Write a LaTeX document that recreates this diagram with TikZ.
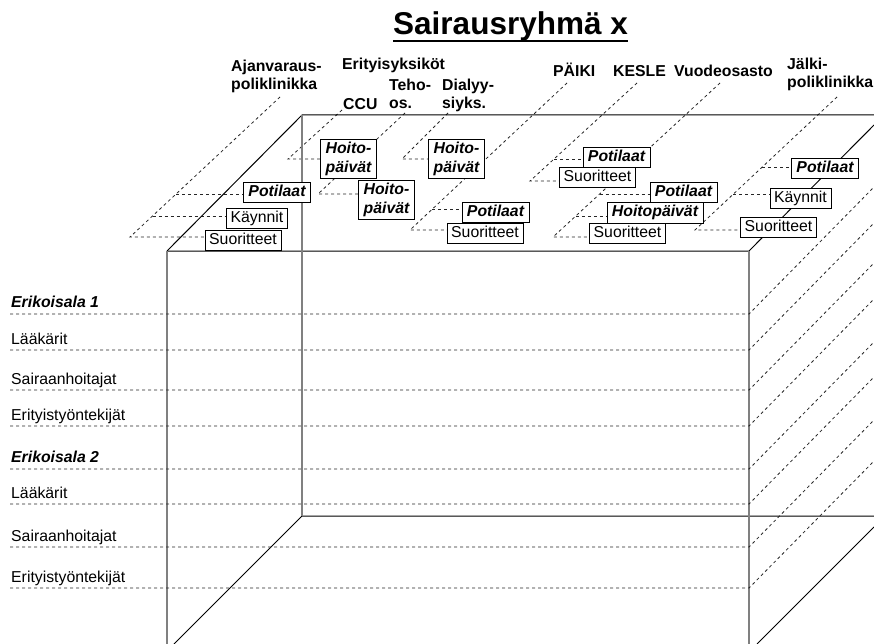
\documentclass[tikz,border=0pt]{standalone}
\usepackage{fontspec}
\setmainfont{Liberation Sans}
\usetikzlibrary{backgrounds}
\newcommand{\perus}{\fontsize{15.8}{18}\selectfont}
\begin{document}
\begin{tikzpicture}[x=1pt, y=-1pt, font=\perus,
            kuutio/.style={draw=black, line width=1pt},
            pysty/.style={draw=gray, line width=1.4pt},
            katko/.style={draw=black!85, line width=0.8pt, dash pattern=on 3pt off 3pt},
            osasto/.style={inner sep=0pt, align=left, font=\perus\bfseries},
            rivi/.style={anchor=base west, inner sep=0pt},
            boks/.style={draw, fill=white, inner xsep=4pt, inner ysep=2.5pt, text height=12pt, text depth=3.5pt},
            lihavoitu/.style={boks, inner xsep=5pt, font=\perus\bfseries\itshape},
            hoito/.style={draw, fill=white, align=left, inner xsep=5pt, inner ysep=2.5pt, font=\fontsize{15.8}{19}\selectfont\bfseries\itshape}]
            \useasboundingbox (0,0) rectangle (874,644);

            \node[anchor=base west, inner sep=0pt, font=\fontsize{31.5}{36}\selectfont\bfseries] (otsikko) at (393,35) {Sairausryhmä x};
            \draw[line width=2.6pt] ([yshift=-6pt]otsikko.base west) -- ([yshift=-6pt]otsikko.base east);

            \draw[kuutio] (167,251) -- (302,115) -- (874,115);
            \draw[kuutio] (167,251) -- (749,251) -- (874,125);
            \draw[kuutio] (174,644) -- (302,516) -- (874,516);
            \draw[kuutio] (757,644) -- (874,527);
            \draw[pysty] (167,251) -- (167,644);
            \draw[pysty] (749,251) -- (749,644);
            \draw[pysty] (302,115) -- (302,516);

            \node[rivi] (ea1) at (11,307.5) {\textbf{\textit{Erikoisala 1}}};
            \node[rivi] (laa1) at (11,344.5) {Lääkärit};
            \node[rivi] (sai1) at (11,384) {Sairaanhoitajat};
            \node[rivi] (eri1) at (11,420.5) {Erityistyöntekijät};
            \node[rivi] (ea2) at (11,462.5) {\textbf{\textit{Erikoisala 2}}};
            \node[rivi] (laa2) at (11,498.5) {Lääkärit};
            \node[rivi] (sai2) at (11,541) {Sairaanhoitajat};
            \node[rivi] (eri2) at (11,582.5) {Erityistyöntekijät};

            \draw[katko] (10,314) -- (749,314) -- ++(125,-127);
            \draw[katko] (10,350) -- (749,350) -- ++(125,-127);
            \draw[katko] (10,390) -- (749,390) -- ++(125,-127);
            \draw[katko] (10,426) -- (749,426) -- ++(125,-127);
            \draw[katko] (10,469) -- (749,469) -- ++(125,-127);
            \draw[katko] (10,504) -- (749,504) -- ++(125,-127);
            \draw[katko] (10,547) -- (749,547) -- ++(125,-127);
            \draw[katko] (10,588) -- (749,588) -- ++(125,-127);

            \node[osasto, anchor=north west] (ajL) at (231,60) {Ajanvaraus-\\poliklinikka};
            \node[osasto, anchor=base west] (eriL) at (342,70) {Erityisyksiköt};
            \node[osasto, anchor=base west] (ccuL) at (343,110) {CCU};
            \node[osasto, anchor=north west] (tehL) at (389,79) {Teho-\\os.};
            \node[osasto, anchor=north west] (dlyL) at (442,79) {Dialyy-\\siyks.};
            \node[osasto, anchor=base west] (paiL) at (553,77) {PÄIKI};
            \node[osasto, anchor=base west] (kesL) at (613,77) {KESLE};
            \node[osasto, anchor=base west] (vuoL) at (674,77) {Vuodeosasto};
            \node[osasto, anchor=north west] (jalL) at (787,58) {Jälki-\\poliklinikka};

            \coordinate (ajA) at (280,97);
            \coordinate (ajB) at (130,237);
            \coordinate (aj1) at (176,194);
            \coordinate (aj2) at (152.5,216);
            \coordinate (ccuA) at (342,110);
            \coordinate (ccuB) at (288,159);
            \coordinate (tehA) at (405,113);
            \coordinate (tehB) at (318,194);
            \coordinate (dlyA) at (448,113);
            \coordinate (dlyB) at (402,159);
            \coordinate (paiA) at (567,83);
            \coordinate (paiB) at (410,230);
            \coordinate (pai1) at (432.4,209);
            \coordinate (kesA) at (637,83);
            \coordinate (kesB) at (530,181);
            \coordinate (kes1) at (554,159);
            \coordinate (vuoA) at (720,83);
            \coordinate (vuoB) at (553,237);
            \coordinate (vuo1) at (599.7,194);
            \coordinate (vuo2) at (575.8,216);
            \coordinate (jalA) at (837,97);
            \coordinate (jalB) at (695,230);
            \coordinate (jal1) at (762.2,167);
            \coordinate (jal2) at (733.4,194);

            \node[lihavoitu] (ajPot) at (277,192) {Potilaat};
            \node[boks] (ajKay) at (257,218) {Käynnit};
            \node[boks] (ajSuo) at (243,240) {Suoritteet};
            \node[hoito] (ccuHoi) at (348.5,158.5) {Hoito-\\päivät};
            \node[hoito] (tehHoi) at (386.5,200) {Hoito-\\päivät};
            \node[hoito] (dlyHoi) at (456.5,158.5) {Hoito-\\päivät};
            \node[lihavoitu] (paiPot) at (495.5,212) {Potilaat};
            \node[boks] (paiSuo) at (485,233) {Suoritteet};
            \node[lihavoitu] (kesPot) at (616.5,157) {Potilaat};
            \node[boks] (kesSuo) at (597.5,177) {Suoritteet};
            \node[lihavoitu] (vuoPot) at (683.5,192) {Potilaat};
            \node[lihavoitu] (vuoHoi) at (655,212.5) {Hoitopäivät};
            \node[boks] (vuoSuo) at (627.5,233) {Suoritteet};
            \node[lihavoitu] (jalPot) at (825,168) {Potilaat};
            \node[boks] (jalKay) at (800.5,198) {Käynnit};
            \node[boks] (jalSuo) at (778.5,227) {Suoritteet};

            \begin{scope}[on background layer]
            \draw[katko] (ajA) -- (ajB) -- (ajB -| ajSuo.west);
            \draw[katko] (aj2) -- (aj2 -| ajKay.west);
            \draw[katko] (aj1) -- (aj1 -| ajPot.west);
            \draw[katko] (ccuA) -- (ccuB) -- (ccuB -| ccuHoi.west);
            \draw[katko] (tehA) -- (tehB) -- (tehB -| tehHoi.west);
            \draw[katko] (dlyA) -- (dlyB) -- (dlyB -| dlyHoi.west);
            \draw[katko] (paiA) -- (paiB) -- (paiB -| paiSuo.west);
            \draw[katko] (pai1) -- (pai1 -| paiPot.west);
            \draw[katko] (kesA) -- (kesB) -- (kesB -| kesSuo.west);
            \draw[katko] (kes1) -- (kes1 -| kesPot.west);
            \draw[katko] (vuoA) -- (vuoB) -- (vuoB -| vuoSuo.west);
            \draw[katko] (vuo2) -- (vuo2 -| vuoHoi.west);
            \draw[katko] (vuo1) -- (vuo1 -| vuoPot.west);
            \draw[katko] (jalA) -- (jalB) -- (jalB -| jalSuo.west);
            \draw[katko] (jal2) -- (jal2 -| jalKay.west);
            \draw[katko] (jal1) -- (jal1 -| jalPot.west);
            \end{scope}
\end{tikzpicture}
\end{document}
